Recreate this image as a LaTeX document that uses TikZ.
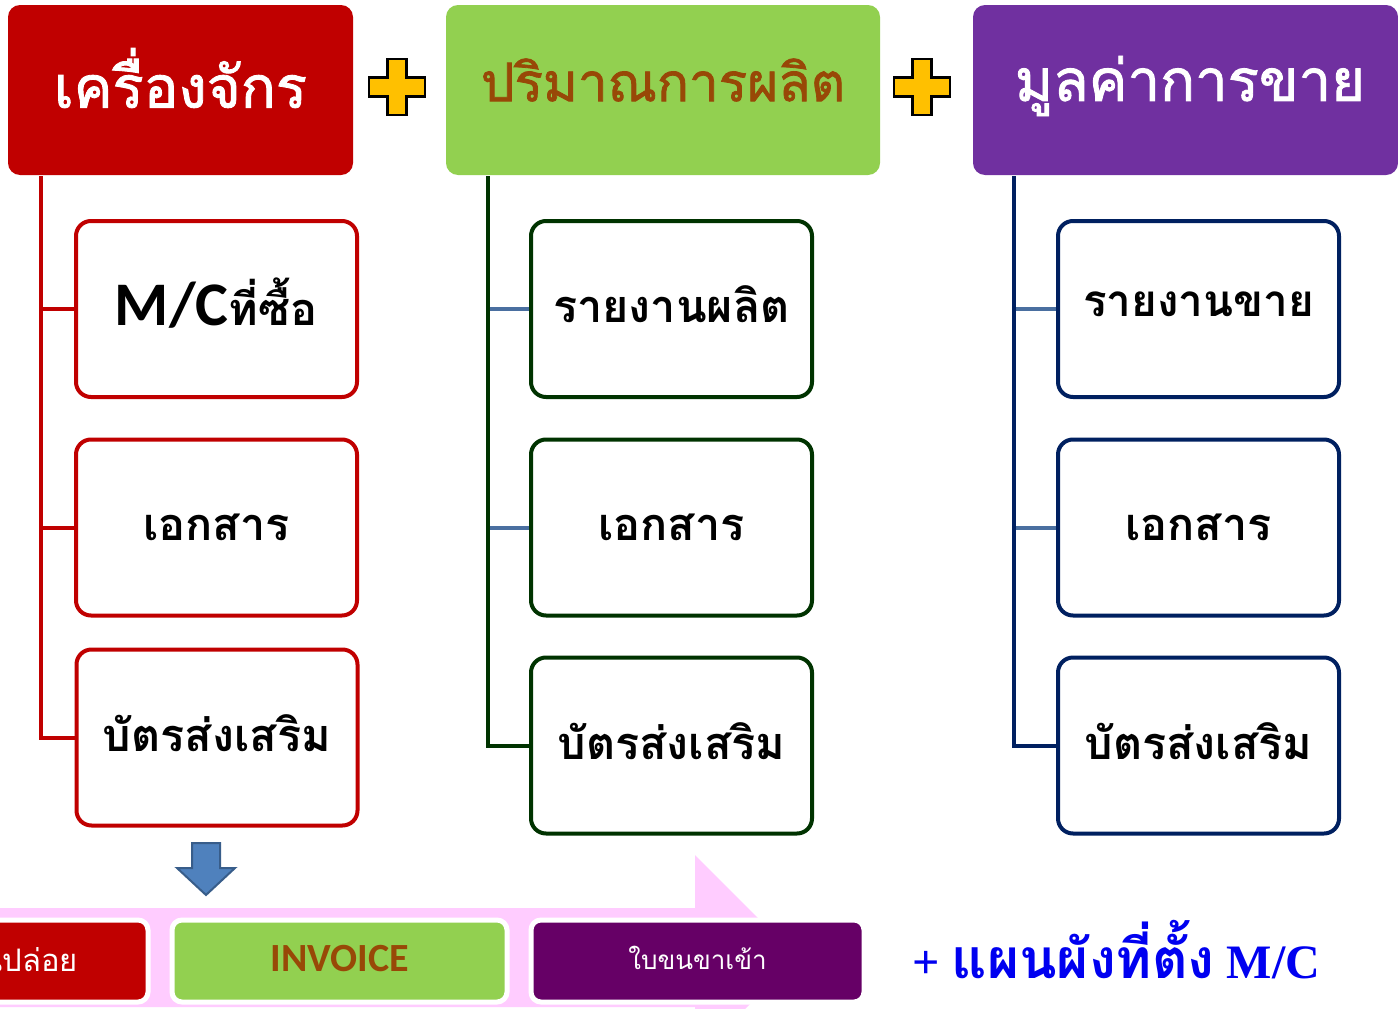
\documentclass[tikz,border=0pt]{standalone}
\usepackage{fontspec}
\newfontfamily\thai[Script=Thai]{Loma}
\newfontfamily\thaih[Script=Thai,FakeBold=1.5]{Loma}
\newfontfamily\carl{Carlito}
\newfontfamily\tserif{Liberation Serif}
\definecolor{hred}{HTML}{C00000}
\definecolor{hgreen}{HTML}{92D050}
\definecolor{hpurple}{HTML}{7030A0}
\definecolor{brownt}{HTML}{984807}
\definecolor{dgreen}{HTML}{003300}
\definecolor{navy}{HTML}{002060}
\definecolor{steel}{HTML}{4A6FA0}
\definecolor{plusy}{HTML}{FFC000}
\definecolor{arrowb}{HTML}{4F81BD}
\definecolor{arrowbd}{HTML}{385D8A}
\definecolor{pinkb}{HTML}{FFCCFF}
\definecolor{bpurple}{HTML}{660066}
\definecolor{tblue}{HTML}{0000F0}
\begin{document}
\begin{tikzpicture}[x=1pt,y=-1pt,
  hdr/.style={rounded corners=12pt, minimum height=170pt, inner sep=0pt},
  hdrtext/.style={inner sep=0pt, font=\thaih\fontsize{58}{60}\selectfont},
  itembox/.style={draw, line width=4pt, rounded corners=15pt, fill=white, minimum width=281pt, minimum height=176pt, inner sep=0pt},
  itemtext/.style={inner sep=0pt, font=\thai\bfseries\fontsize{45}{47}\selectfont},
  botbox/.style={draw=white, line width=5pt, rounded corners=10pt, minimum height=82pt, inner sep=0pt},
  plusshape/.style={fill=plusy, draw=black, line width=2.5pt, line join=miter},
  trunk/.style={line width=4pt},
]
\clip (0,0) rectangle (1398,1009);
\fill[white] (0,0) rectangle (1398,1009);

% headers
\node[hdr, fill=hred, minimum width=345pt] (h1) at (180.5,90) {};
\node[hdrtext, text=white] (h1t) at (h1.center) [yshift=12pt] {เครื่องจักร};
\node[hdr, fill=hgreen, minimum width=434pt] (h2) at (663,90) {};
\node[hdrtext, text=brownt, font=\thaih\fontsize{53}{55}\selectfont] (h2t) at (h2.center) [yshift=10pt] {ปริมาณการผลิต};
\node[hdr, fill=hpurple, minimum width=425pt] (h3) at (1185.5,90) {};
\node[hdrtext, text=white] (h3t) at (1190,86) {มูลค่าการขาย};

% plus signs
\foreach \cx in {397,922}{
  \draw[plusshape] (\cx-9.5,59) -- (\cx+9.5,59) -- (\cx+9.5,77.5) -- (\cx+28,77.5) -- (\cx+28,96.5) -- (\cx+9.5,96.5) -- (\cx+9.5,115) -- (\cx-9.5,115) -- (\cx-9.5,96.5) -- (\cx-28,96.5) -- (\cx-28,77.5) -- (\cx-9.5,77.5) -- cycle;
}

% column 1
\node[itembox, draw=hred] (a1) at (216.5,309) {};
\node[itemtext] (a1t) at (216,303) {{\carl\bfseries\fontsize{62}{64}\selectfont M/C}ที่ซื้อ};
\node[itembox, draw=hred] (a2) at (216.5,527.5) {};
\node[itemtext] (a2t) at (a2.center) {เอกสาร};
\node[itembox, draw=hred] (a3) at (217,737.5) {};
\node[itemtext] (a3t) at (217,733) {บัตรส่งเสริม};
\coordinate (t1) at (41,176);
\draw[trunk, hred] (t1) |- (a3.west);
\draw[trunk, hred] (a1.west) -- (a1.west -| t1);
\draw[trunk, hred] (a2.west) -- (a2.west -| t1);

% column 2
\node[itembox, draw=dgreen] (b1) at (671.5,309) {};
\node[itemtext] (b1t) at (671.5,304) {รายงานผลิต};
\node[itembox, draw=dgreen] (b2) at (671.5,527.5) {};
\node[itemtext] (b2t) at (b2.center) {เอกสาร};
\node[itembox, draw=dgreen] (b3) at (671.5,745.5) {};
\node[itemtext] (b3t) at (671.5,741) {บัตรส่งเสริม};
\coordinate (t2) at (488,176);
\draw[trunk, steel] (b1.west) -- (b1.west -| t2);
\draw[trunk, steel] (b2.west) -- (b2.west -| t2);
\draw[trunk, dgreen] (t2) |- (b3.west);

% column 3
\node[itembox, draw=navy] (c1) at (1198.5,309) {};
\node[itemtext, font=\thai\bfseries\fontsize{44}{46}\selectfont] (c1t) at (1198.5,304) {รายงานขาย};
\node[itembox, draw=navy] (c2) at (1198.5,527.5) {};
\node[itemtext] (c2t) at (c2.center) {เอกสาร};
\node[itembox, draw=navy] (c3) at (1198.5,745.5) {};
\node[itemtext] (c3t) at (1198.5,741) {บัตรส่งเสริม};
\coordinate (t3) at (1014,176);
\draw[trunk, steel] (c1.west) -- (c1.west -| t3);
\draw[trunk, steel] (c2.west) -- (c2.west -| t3);
\draw[trunk, navy] (t3) |- (c3.west);

% down arrow
\draw[fill=arrowb, draw=arrowbd, line width=2pt, line join=miter] (192,843) -- (220,843) -- (220,868) -- (235,868) -- (206,895) -- (177,868) -- (192,868) -- cycle;

% pink process arrow
\fill[pinkb] (-10,908) -- (695,908) -- (695,855) -- (797,957) -- (695,1059) -- (695,1007) -- (-10,1007) -- cycle;

% bottom boxes
\node[botbox, fill=hred, minimum width=200pt] (d1) at (48,961) {};
\node[text=white, font=\thai\fontsize{31}{33}\selectfont, anchor=east, inner sep=0pt] (d1t) at (78,958) {ใบขนปล่อย};
\node[botbox, fill=hgreen, minimum width=335pt] (d2) at (339.5,961) {};
\node[text=brownt, font=\carl\bfseries\fontsize{40}{42}\selectfont, inner sep=0pt] (d2t) at (340,959) {INVOICE};
\node[botbox, fill=bpurple, minimum width=333pt] (d3) at (697.5,961) {};
\node[text=white, font=\thai\fontsize{26}{28}\selectfont, inner sep=0pt] (d3t) at (697.5,958) {ใบขนขาเข้า};

% note
\node[text=tblue, font=\tserif\bfseries\fontsize{48}{50}\selectfont, anchor=west, inner sep=0pt] (note) at (912,950) {+ {\thai\bfseries\fontsize{55}{57}\selectfont แผนผังที่ตั้ง} M/C};
\end{tikzpicture}
\end{document}
